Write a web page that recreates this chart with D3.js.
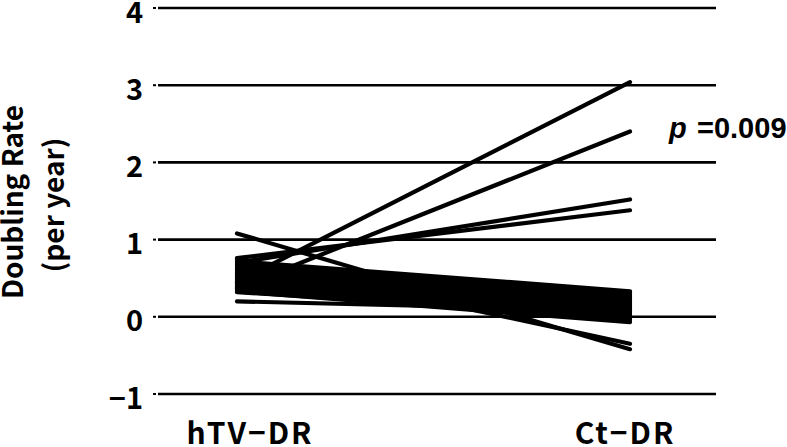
<!DOCTYPE html>
<html>
<head>
<meta charset="utf-8">
<script src="https://cdn.jsdelivr.net/npm/d3@7"></script>
<style>
  html, body { margin: 0; padding: 0; background: #fff; }
  svg { display: block; }
  .tick-label, .axis-title, .cat-label { font-family: "Noto Sans CJK JP", "Noto Sans", sans-serif; fill: #000; font-weight: 700; }
</style>
</head>
<body>
<div id="chart"></div>
<script>
// paired doubling rates, hTV-DR vs Ct-DR (one line per patient)

const categories = ["hTV\u2212DR", "Ct\u2212DR"];
const yTicks = [-1, 0, 1, 2, 3, 4];

// left end (hTV-DR) and right end (Ct-DR) of each line
const hTV = [0.45, 0.37, 0.70, 0.76, 1.08, 0.75, 0.20,
  0.72, 0.68, 0.66, 0.64, 0.62, 0.61, 0.60, 0.58, 0.57, 0.56, 0.55, 0.54, 0.53,
  0.52, 0.51, 0.50, 0.49, 0.48, 0.47, 0.46, 0.45, 0.44, 0.43, 0.42, 0.41, 0.40,
  0.39, 0.38, 0.36, 0.35, 0.34, 0.33, 0.32];
const ct = [3.04, 2.40, 1.52, 1.38, -0.42, -0.35, 0.08,
  0.33, 0.32, 0.30, 0.29, 0.27, 0.26, 0.25, 0.24, 0.23, 0.22, 0.21, 0.20, 0.19,
  0.18, 0.17, 0.16, 0.15, 0.14, 0.13, 0.12, 0.11, 0.10, 0.09, 0.08, 0.07, 0.05,
  0.04, 0.02, 0.01, -0.02, -0.04, -0.07, 0.00];

const pText = "=0.009";

const W = 787, H = 447;

const svg = d3.select("#chart").append("svg")
  .attr("width", W).attr("height", H)
  .attr("viewBox", `0 0 ${W} ${H}`);

const x = d3.scalePoint().domain(categories).range([237, 630]);
const y = d3.scaleLinear().domain([-1, 4]).range([394, 8]);

// grid lines
svg.append("g").selectAll("line")
  .data(yTicks)
  .join("line")
  .attr("x1", 158).attr("x2", 716)
  .attr("y1", d => y(d)).attr("y2", d => y(d))
  .attr("stroke", "#000")
  .attr("stroke-width", 2.6);

// small tick stubs left of the grid
svg.append("g").selectAll("line")
  .data(yTicks)
  .join("line")
  .attr("x1", 153).attr("x2", 156)
  .attr("y1", d => y(d)).attr("y2", d => y(d))
  .attr("stroke", "#000")
  .attr("stroke-width", 2);

// tick labels
svg.append("g").selectAll("text")
  .data(yTicks)
  .join("text")
  .attr("class", "tick-label")
  .attr("x", 143)
  .attr("y", d => y(d))
  .attr("dy", "0.5em")
  .attr("text-anchor", "end")
  .attr("font-size", 29)
  .text(d => d < 0 ? "\u2212" + Math.abs(d) : d);

// y title
svg.append("text")
  .attr("class", "axis-title")
  .attr("transform", "translate(23,202) rotate(-90)")
  .attr("text-anchor", "middle")
  .attr("font-size", 28)
  .text("Doubling Rate");

svg.append("text")
  .attr("class", "axis-title")
  .attr("transform", "translate(64,205) rotate(-90)")
  .attr("text-anchor", "middle")
  .attr("font-size", 28)
  .text("(per year)");

// category labels
const labelShift = [13, -5];
svg.append("g").selectAll("text")
  .data(categories)
  .join("text")
  .attr("class", "cat-label")
  .attr("x", (d, i) => x(d) + labelShift[i])
  .attr("y", 444)
  .attr("text-anchor", "middle")
  .attr("font-size", 30)
  .attr("letter-spacing", 2)
  .text(d => d);

// patient lines
const pairs = hTV.map((v, i) => [v, ct[i]]);
const line = d3.line()
  .x((d, i) => x(categories[i]))
  .y(d => y(d));

svg.append("g").selectAll("path")
  .data(pairs)
  .join("path")
  .attr("d", line)
  .attr("fill", "none")
  .attr("stroke", "#000")
  .attr("stroke-width", 4.2)
  .attr("stroke-linecap", "round");

// p value
svg.append("text")
  .attr("x", 669).attr("y", 138)
  .attr("font-family", "Liberation Sans, Arial, sans-serif")
  .attr("font-style", "italic")
  .attr("font-weight", 700)
  .attr("font-size", 29)
  .text("p");

svg.append("text")
  .attr("x", 697).attr("y", 138)
  .attr("font-family", "Liberation Sans, Arial, sans-serif")
  .attr("font-weight", 700)
  .attr("font-size", 29)
  .text(pText);
</script>
</body>
</html>
